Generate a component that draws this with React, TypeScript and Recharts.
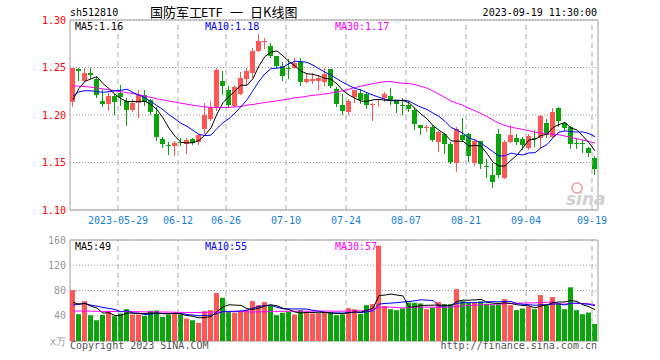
import React from "react";
import {
  ComposedChart,
  Bar,
  Line,
  XAxis,
  YAxis,
  CartesianGrid,
  ReferenceLine,
  ReferenceArea,
} from "recharts";

// trading days shown (2023-05-17 .. 2023-09-19)
const mayDays = [17, 18, 19, 22, 23, 24, 25, 26, 29, 30, 31];
const junDays = [1, 2, 5, 6, 7, 8, 9, 12, 13, 14, 15, 16, 19, 20, 21, 26, 27, 28, 29, 30];
const julDays = [3, 4, 5, 6, 7, 10, 11, 12, 13, 14, 17, 18, 19, 20, 21, 24, 25, 26, 27, 28, 31];
const augDays = [1, 2, 3, 4, 7, 8, 9, 10, 11, 14, 15, 16, 17, 18, 21, 22, 23, 24, 25, 28, 29, 30, 31];
const sepDays = [1, 4, 5, 6, 7, 8, 11, 12, 13, 14, 15, 18, 19];

const tickDates = ["05-29", "06-12", "06-26", "07-10", "07-24", "08-07", "08-21", "09-04", "09-19"];

const openPrices = [
  1.214, 1.248, 1.236, 1.244, 1.238, 1.215, 1.212, 1.22, 1.223, 1.215,
  1.205, 1.213, 1.221, 1.216, 1.201, 1.175, 1.168, 1.167, 1.172, 1.17,
  1.175, 1.172, 1.185, 1.196, 1.207, 1.236, 1.226, 1.209, 1.222, 1.238,
  1.244, 1.267, 1.277, 1.273, 1.262, 1.252, 1.25, 1.25, 1.256, 1.235,
  1.236, 1.236, 1.235, 1.248, 1.227, 1.211, 1.203, 1.219, 1.223, 1.222,
  1.211, 1.216, 1.218, 1.22, 1.215, 1.211, 1.211, 1.205, 1.19, 1.186,
  1.187, 1.172, 1.18, 1.169, 1.15, 1.179, 1.18, 1.15, 1.173, 1.146,
  1.137, 1.18, 1.134, 1.172, 1.176, 1.175, 1.165, 1.176, 1.176, 1.192,
  1.177, 1.207, 1.192, 1.187, 1.171, 1.171, 1.165, 1.155,
];
const highPrices = [
  1.25, 1.25, 1.25, 1.249, 1.24, 1.227, 1.223, 1.222, 1.232, 1.218,
  1.217, 1.226, 1.226, 1.217, 1.208, 1.177, 1.172, 1.173, 1.176, 1.176,
  1.176, 1.18, 1.213, 1.215, 1.25, 1.246, 1.231, 1.232, 1.245, 1.25,
  1.271, 1.285, 1.281, 1.276, 1.262, 1.256, 1.259, 1.26, 1.26, 1.243,
  1.244, 1.242, 1.25, 1.248, 1.229, 1.222, 1.217, 1.226, 1.227, 1.224,
  1.213, 1.217, 1.224, 1.228, 1.215, 1.218, 1.215, 1.207, 1.19, 1.19,
  1.189, 1.183, 1.181, 1.172, 1.187, 1.197, 1.181, 1.175, 1.173, 1.154,
  1.149, 1.185, 1.174, 1.19, 1.18, 1.177, 1.18, 1.184, 1.2, 1.196,
  1.207, 1.208, 1.193, 1.188, 1.176, 1.174, 1.166, 1.157,
];
const lowPrices = [
  1.209, 1.236, 1.235, 1.237, 1.218, 1.208, 1.204, 1.2, 1.21, 1.189,
  1.203, 1.197, 1.209, 1.2, 1.172, 1.165, 1.158, 1.157, 1.168, 1.159,
  1.169, 1.168, 1.18, 1.194, 1.205, 1.221, 1.208, 1.209, 1.221, 1.232,
  1.239, 1.266, 1.269, 1.26, 1.249, 1.236, 1.238, 1.248, 1.231, 1.234,
  1.232, 1.226, 1.231, 1.228, 1.208, 1.2, 1.2, 1.212, 1.211, 1.206,
  1.194, 1.209, 1.213, 1.21, 1.202, 1.2, 1.203, 1.184, 1.18, 1.183,
  1.171, 1.161, 1.159, 1.149, 1.14, 1.172, 1.151, 1.147, 1.144, 1.134,
  1.123, 1.133, 1.133, 1.171, 1.168, 1.163, 1.163, 1.166, 1.164, 1.176,
  1.175, 1.187, 1.184, 1.164, 1.164, 1.16, 1.155, 1.137,
];
const closePrices = [
  1.249, 1.246, 1.244, 1.242, 1.221, 1.212, 1.22, 1.214, 1.219, 1.205,
  1.213, 1.221, 1.214, 1.203, 1.177, 1.17, 1.167, 1.171, 1.171, 1.174,
  1.171, 1.179, 1.2, 1.208, 1.247, 1.231, 1.211, 1.229, 1.239, 1.246,
  1.267, 1.278, 1.278, 1.262, 1.252, 1.241, 1.248, 1.255, 1.235, 1.238,
  1.238, 1.239, 1.243, 1.231, 1.212, 1.204, 1.215, 1.226, 1.216, 1.211,
  1.212, 1.217, 1.222, 1.215, 1.212, 1.21, 1.206, 1.191, 1.186, 1.187,
  1.174, 1.182, 1.17, 1.151, 1.185, 1.174, 1.157, 1.173, 1.148, 1.145,
  1.129, 1.137, 1.172, 1.179, 1.172, 1.168, 1.178, 1.175, 1.199, 1.179,
  1.203, 1.194, 1.186, 1.169, 1.17, 1.169, 1.16, 1.143,
];
// volume, 万手
const volumes = [
  80.7, 42.5, 63.2, 40.9, 32.9, 41.4, 46.2, 39.3, 43.5, 50.4,
  42, 42, 39.8, 47.8, 48.3, 38.2, 42, 43.5, 42, 35.6,
  32.9, 28.7, 47.3, 48.9, 75.9, 68.5, 46.2, 44.6, 47.3, 48.9,
  63.2, 56.8, 61.6, 55.8, 40.9, 44.6, 46.2, 42, 48.9, 45.1,
  43.5, 43.5, 45.1, 45, 40.9, 42, 52, 50.4, 43, 56.8,
  58.4, 151, 55.2, 50.4, 48.9, 51.5, 61, 60.5, 59.5, 50.4,
  52.6, 61.6, 58.4, 58.4, 82.3, 63.2, 61, 60.5, 62.7, 59,
  56.8, 57.9, 66.4, 56.8, 48.9, 51.5, 54.7, 50.4, 72.7, 56.8,
  69.6, 59.5, 50.4, 85, 48.9, 42.5, 45.1, 27,
];

// moving-average values for the first days (window not yet full)
const ma5Head = [1.216, 1.228, 1.2355, 1.238];
const ma10Head = [1.22, 1.2245, 1.2255, 1.2255, 1.2245, 1.224, 1.2245, 1.2255, 1.226];
const ma30Head = [
  1.2305, 1.2303, 1.23, 1.2293, 1.2285, 1.2275, 1.2265, 1.2255, 1.2245, 1.2235,
  1.2225, 1.2212, 1.22, 1.2185, 1.217, 1.2158, 1.2146, 1.2135, 1.2124, 1.2113,
  1.2103, 1.2093, 1.2085, 1.208, 1.2078, 1.2078, 1.208, 1.2085, 1.209,
];
const vma5Head = [61, 58.4, 59.5, 55.2];
const vma10Head = [56.8, 58.4, 59.5, 56.8, 55.2, 53.1, 51.5, 50, 46.2];
const vma30Head = [
  47.3, 47.5, 47.5, 47.3, 47, 47, 46.8, 46.8, 46.6, 46.6,
  46.5, 46.3, 46.2, 46.2, 46, 46, 45.8, 45.6, 45.4, 45.2,
  45.2, 45.2, 45.4, 45.6, 46, 46.2, 46.3, 46.5, 46.8,
];

const RED = "#ff5656";
const GREEN = "#0aa50a";
const MONO = "DejaVu Sans Mono";

const pad = (n: number) => (n < 10 ? "0" + n : "" + n);
const dates = [
  ...mayDays.map((d) => "05-" + pad(d)),
  ...junDays.map((d) => "06-" + pad(d)),
  ...julDays.map((d) => "07-" + pad(d)),
  ...augDays.map((d) => "08-" + pad(d)),
  ...sepDays.map((d) => "09-" + pad(d)),
];

function movingAvg(values: number[], n: number, head: number[]) {
  return values.map((_, i) => {
    if (i < n - 1) return head[i];
    let s = 0;
    for (let k = i - n + 1; k <= i; k++) s += values[k];
    return s / n;
  });
}

const ma5 = movingAvg(closePrices, 5, ma5Head);
const ma10 = movingAvg(closePrices, 10, ma10Head);
const ma30 = movingAvg(closePrices, 30, ma30Head);
const vma5 = movingAvg(volumes, 5, vma5Head);
const vma10 = movingAvg(volumes, 10, vma10Head);
const vma30 = movingAvg(volumes, 30, vma30Head);

const data = dates.map((d, i) => ({
  d,
  o: openPrices[i],
  h: highPrices[i],
  l: lowPrices[i],
  c: closePrices[i],
  range: [lowPrices[i], highPrices[i]],
  v: volumes[i],
  ma5: ma5[i],
  ma10: ma10[i],
  ma30: ma30[i],
  vma5: vma5[i],
  vma10: vma10[i],
  vma30: vma30[i],
}));

const last = data.length - 1;

const Candle = (props: any) => {
  const { x, y, height, payload } = props;
  if (x == null || payload == null) return null;
  const { o, c, h, l } = payload;
  const color = c >= o ? RED : GREEN;
  const top = Math.min(y, y + height);
  const hh = Math.abs(height);
  const py = (p: number) => (h === l ? top : top + ((h - p) / (h - l)) * hh);
  const bx = Math.round(x);
  const y1 = Math.round(py(Math.max(o, c)));
  const y2 = Math.round(py(Math.min(o, c)));
  return (
    <g>
      <rect x={bx + 2} y={Math.round(top)} width={1} height={Math.max(Math.round(hh), 1)} fill={color} />
      <rect x={bx} y={y1} width={5} height={Math.max(y2 - y1, 1)} fill={color} />
    </g>
  );
};

const VolBar = (props: any) => {
  const { x, y, height, payload } = props;
  if (x == null || payload == null) return null;
  const color = payload.c >= payload.o ? RED : GREEN;
  return <rect x={Math.round(x)} y={y} width={5} height={Math.max(height, 0)} fill={color} />;
};

const DateTick = (props: any) => {
  const { x, payload } = props;
  const label = payload.value === tickDates[0] ? "2023-" + payload.value : payload.value;
  return (
    <text x={x - 3} y={224} textAnchor="middle" fill="#1a7fd4" fontSize={10} fontFamily={MONO}>
      {label}
    </text>
  );
};

const App = () => {
  return (
    <div style={{ position: "absolute", left: 0, top: 0, width: 660, height: 360, background: "#fff" }}>
      <div style={{ position: "absolute", left: 0, top: 0 }}>
        <ComposedChart
          width={660}
          height={232}
          data={data}
          margin={{ top: 20, right: 62, bottom: 0, left: 0 }}
          barCategoryGap={0}
        >
          <CartesianGrid vertical={false} stroke="#999" strokeDasharray="1 2" />
          <XAxis
            dataKey="d"
            ticks={tickDates}
            interval={0}
            height={22}
            tickLine={false}
            axisLine={false}
            tick={<DateTick />}
          />
          <YAxis
            domain={[1.1, 1.3]}
            ticks={[1.1, 1.15, 1.2, 1.25, 1.3]}
            width={70}
            tickSize={0}
            tickMargin={4}
            tickLine={false}
            axisLine={false}
            tickFormatter={(v: number) => v.toFixed(2)}
            tick={{ fill: "#f00", fontSize: 10, fontFamily: MONO }}
          />
          {tickDates.map((d) => (
            <ReferenceLine key={d} x={d} position="start" stroke="#aaa" strokeDasharray="5 4" />
          ))}
          <ReferenceArea y1={1.1} y2={1.3} fill="none" fillOpacity={0} stroke="#a0a0a0" />
          <Bar dataKey="range" shape={<Candle />} isAnimationActive={false} />
          <Line dataKey="ma30" stroke="#ff00ff" dot={false} strokeWidth={1} isAnimationActive={false} />
          <Line dataKey="ma10" stroke="#0000ff" dot={false} strokeWidth={1} isAnimationActive={false} />
          <Line dataKey="ma5" stroke="#000" dot={false} strokeWidth={1} isAnimationActive={false} />
        </ComposedChart>
      </div>
      <div style={{ position: "absolute", left: 0, top: 0 }}>
        <ComposedChart
          width={660}
          height={360}
          data={data}
          margin={{ top: 240, right: 62, bottom: 19, left: 0 }}
          barCategoryGap={0}
        >
          <CartesianGrid vertical={false} stroke="#999" strokeDasharray="1 2" />
          <XAxis dataKey="d" hide />
          <YAxis
            domain={[0, 160]}
            ticks={[0, 40, 80, 120, 160]}
            width={70}
            tickSize={0}
            tickMargin={4}
            tickLine={false}
            axisLine={false}
            tickFormatter={(v: number) => (v === 0 ? "x万" : String(v))}
            tick={{ fill: "#999", fontSize: 10, fontFamily: MONO }}
          />
          {tickDates.map((d) => (
            <ReferenceLine key={d} x={d} position="start" stroke="#aaa" strokeDasharray="5 4" />
          ))}
          <ReferenceArea y1={0} y2={160} fill="none" fillOpacity={0} stroke="#a0a0a0" />
          <Bar dataKey="v" shape={<VolBar />} isAnimationActive={false} />
          <Line dataKey="vma30" stroke="#ff00ff" dot={false} strokeWidth={1} isAnimationActive={false} />
          <Line dataKey="vma10" stroke="#0000ff" dot={false} strokeWidth={1} isAnimationActive={false} />
          <Line dataKey="vma5" stroke="#000" dot={false} strokeWidth={1} isAnimationActive={false} />
        </ComposedChart>
      </div>
      <svg
        width={660}
        height={360}
        style={{ position: "absolute", left: 0, top: 0, pointerEvents: "none" }}
      >
        <text x={70} y={16} fontSize={10} fontFamily={MONO} fill="#000">
          sh512810
        </text>
        <text y={17} fontSize={13} fontFamily="Noto Sans CJK SC" fill="#000">
          <tspan x={150}>国防军工</tspan>
          <tspan x={201} fontFamily="DejaVu Sans Mono" fontSize={12}>ETF</tspan>
          <tspan x={230}>一</tspan>
          <tspan x={250}>日K线图</tspan>
        </text>
        <text x={597} y={16} fontSize={10} fontFamily={MONO} fill="#000" textAnchor="end">
          2023-09-19 11:30:00
        </text>
        <text x={75} y={30} fontSize={10} fontFamily={MONO} fill="#000">
          {"MA5:" + data[last].ma5.toFixed(2)}
        </text>
        <text x={205} y={30} fontSize={10} fontFamily={MONO} fill="#0000ff">
          {"MA10:" + data[last].ma10.toFixed(2)}
        </text>
        <text x={335} y={30} fontSize={10} fontFamily={MONO} fill="#ff00ff">
          {"MA30:" + data[last].ma30.toFixed(2)}
        </text>
        <text x={75} y={250} fontSize={10} fontFamily={MONO} fill="#000">
          {"MA5:" + Math.floor(data[last].vma5)}
        </text>
        <text x={205} y={250} fontSize={10} fontFamily={MONO} fill="#0000ff">
          {"MA10:" + Math.floor(data[last].vma10)}
        </text>
        <text x={335} y={250} fontSize={10} fontFamily={MONO} fill="#ff00ff">
          {"MA30:" + Math.floor(data[last].vma30)}
        </text>
        <text x={566} y={205} fontSize={17} fontFamily="DejaVu Sans" fontStyle="italic" fontWeight="bold" fill="#d0d0d0">
          sina
        </text>
        <circle cx={577} cy={188} r={5} fill="none" stroke="#f0b0b0" strokeWidth={2} />
        <text x={70} y={349} fontSize={10} fontFamily={MONO} fill="#555">
          Copyright 2023 SINA.COM
        </text>
        <text x={597} y={349} fontSize={10} fontFamily={MONO} fill="#555" textAnchor="end">
          http://finance.sina.com.cn
        </text>
      </svg>
    </div>
  );
};

export default App;
